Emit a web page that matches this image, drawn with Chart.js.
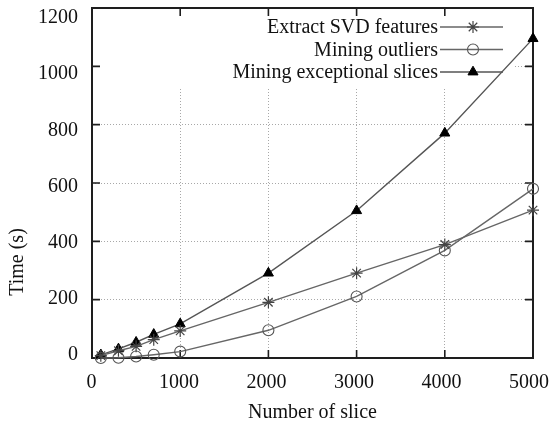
<!DOCTYPE html>
<html>
<head>
<meta charset="utf-8">
<title>Time vs number of slices</title>
<script src="https://cdn.jsdelivr.net/npm/chart.js@4/dist/chart.umd.min.js"></script>
<style>
  html, body { margin: 0; padding: 0; background: #fff; }
  canvas { display: block; }
</style>
</head>
<body>
<canvas id="c" width="551" height="425"></canvas>
<script>
// Number of slices processed
const slices = [100, 300, 500, 700, 1000, 2000, 3000, 4000, 5000];
// Running time in seconds for each stage
const svdFeatures = [8, 25, 40, 63, 93, 191, 291, 389, 507];
const miningOutliers = [0, 1, 5, 11, 22, 95, 211, 369, 580];
const miningExceptional = [11, 31, 54, 81, 117, 291, 505, 771, 1095];

const seriesNames = ['Extract SVD features', 'Mining outliers', 'Mining exceptional slices'];
const xTicks = [0, 1000, 2000, 3000, 4000, 5000];
const yTicks = [0, 200, 400, 600, 800, 1000, 1200];

const FONT = "'Liberation Serif', 'Times New Roman', serif";
const pts = ys => slices.map((x, i) => ({ x, y: ys[i] }));

const styles = [
  { pointStyle: 'star', radius: 6, line: '#666', mark: '#444', fill: 'rgba(0,0,0,0)', bw: 1.2 },
  { pointStyle: 'circle', radius: 5.5, line: '#666', mark: '#555', fill: 'rgba(0,0,0,0)', bw: 1.1 },
  { pointStyle: 'triangle', radius: 5.8, line: '#555', mark: '#000', fill: '#000', bw: 1 }
];
const values = [svdFeatures, miningOutliers, miningExceptional];

const datasets = values.map((v, i) => ({
  label: seriesNames[i],
  data: pts(v),
  xAxisID: 'x',
  yAxisID: 'y',
  borderColor: styles[i].line,
  borderWidth: 1.4,
  pointStyle: styles[i].pointStyle,
  pointRadius: styles[i].radius,
  pointHoverRadius: styles[i].radius,
  pointBorderColor: styles[i].mark,
  pointBackgroundColor: styles[i].fill,
  pointBorderWidth: styles[i].bw,
  tension: 0,
  clip: false
}));

function drawMarker(ctx, st, x, y) {
  ctx.save();
  ctx.strokeStyle = st.mark;
  ctx.fillStyle = st.fill;
  ctx.lineWidth = st.bw;
  if (Chart.helpers && Chart.helpers.drawPoint) {
    Chart.helpers.drawPoint(ctx, { pointStyle: st.pointStyle, radius: st.radius, rotation: 0, borderWidth: st.bw }, x, y);
  }
  ctx.restore();
}

// Opaque key box, plot frame and inward tick marks on all four sides
const framePlugin = {
  id: 'frame',
  beforeDatasetsDraw(chart) {
    const { ctx, chartArea: a, scales } = chart;
    ctx.save();
    // white key background hides the grid behind the legend
    ctx.fillStyle = '#fff';
    ctx.fillRect(a.left + 1, a.top, 513 - a.left, 88 - a.top);
    ctx.strokeStyle = '#1e1e1e';
    ctx.lineWidth = 1.6;
    const tl = 8;
    ctx.beginPath();
    xTicks.forEach(v => {
      const px = scales.x.getPixelForValue(v);
      ctx.moveTo(px, a.bottom); ctx.lineTo(px, a.bottom - tl);
      ctx.moveTo(px, a.top); ctx.lineTo(px, a.top + tl);
    });
    yTicks.forEach(v => {
      const py = scales.y.getPixelForValue(v);
      ctx.moveTo(a.left, py); ctx.lineTo(a.left + tl, py);
      ctx.moveTo(a.right, py); ctx.lineTo(a.right - tl, py);
    });
    ctx.stroke();
    ctx.lineWidth = 2;
    ctx.strokeRect(a.left, a.top, a.right - a.left, a.bottom - a.top);
    ctx.restore();
  },
  afterDraw(chart) {
    const { ctx } = chart;
    ctx.save();
    ctx.font = '20px ' + FONT;
    ctx.fillStyle = '#111';
    // key: label on the left, line sample with marker on the right
    const textRight = 438, lineL = 440, lineR = 503, markX = 473;
    chart.data.datasets.forEach((ds, i) => {
      const y = 27 + i * 22.5;
      ctx.textAlign = 'right';
      ctx.textBaseline = 'middle';
      ctx.fillText(ds.label, textRight, y + 1);
      ctx.strokeStyle = styles[i].line;
      ctx.lineWidth = 1.4;
      ctx.beginPath();
      ctx.moveTo(lineL, y); ctx.lineTo(lineR, y);
      ctx.stroke();
      drawMarker(ctx, styles[i], markX, y);
    });
    // y axis title
    ctx.translate(18, 262);
    ctx.rotate(-Math.PI / 2);
    ctx.textAlign = 'center';
    ctx.textBaseline = 'middle';
    ctx.fillStyle = '#111';
    ctx.fillText('Time (s)', 0, 0);
    ctx.restore();
  }
};

const plain = v => String(v);
const tickFont = { family: FONT, size: 20 };

new Chart(document.getElementById('c'), {
  type: 'line',
  data: { datasets },
  options: {
    responsive: false,
    devicePixelRatio: 1,
    animation: false,
    layout: { padding: { left: 0, top: 8, right: 18, bottom: 0 } },
    plugins: { legend: { display: false }, tooltip: { enabled: false } },
    scales: {
      // data axes: carry the grid, labels come from the companion label axes
      x: {
        type: 'linear', position: 'bottom',
        min: 0, max: 5000,
        afterBuildTicks: s => { s.ticks = xTicks.map(v => ({ value: v })); },
        afterFit: s => { s.height = 0; s.paddingLeft = 0; s.paddingRight = 0; },
        ticks: { display: false },
        grid: { color: '#a8a8a8', lineWidth: 1, drawTicks: false },
        border: { display: false, dash: [1, 2] }
      },
      y: {
        type: 'linear', position: 'left',
        min: 0, max: 1200,
        afterBuildTicks: s => { s.ticks = yTicks.map(v => ({ value: v })); },
        afterFit: s => { s.width = 0; s.paddingTop = 0; s.paddingBottom = 0; },
        ticks: { display: false },
        grid: { color: '#a8a8a8', lineWidth: 1, drawTicks: false },
        border: { display: false, dash: [1, 2] }
      },
      // label axes: tick text set slightly inside the frame
      xl: {
        type: 'linear', position: 'bottom',
        min: 7, max: 5046,
        afterBuildTicks: s => { s.ticks = xTicks.map(v => ({ value: v })); },
        afterFit: s => { s.height = 67; s.paddingLeft = 0; s.paddingRight = 0; },
        ticks: { font: tickFont, color: '#111', padding: 13, maxRotation: 0, autoSkip: false, callback: plain },
        grid: { display: false, drawTicks: false },
        border: { display: false },
        title: { display: true, text: 'Number of slice', font: tickFont, color: '#111', padding: { top: 0, bottom: 0 } }
      },
      yl: {
        type: 'linear', position: 'left',
        min: -10.7, max: 1235.6,
        afterBuildTicks: s => { s.ticks = yTicks.map(v => ({ value: v })); },
        afterFit: s => { s.width = 92; s.paddingTop = 0; s.paddingBottom = 0; },
        ticks: { font: tickFont, color: '#111', padding: 14, autoSkip: false, callback: plain },
        grid: { display: false, drawTicks: false },
        border: { display: false }
      }
    }
  },
  plugins: [framePlugin]
});
</script>
</body>
</html>
